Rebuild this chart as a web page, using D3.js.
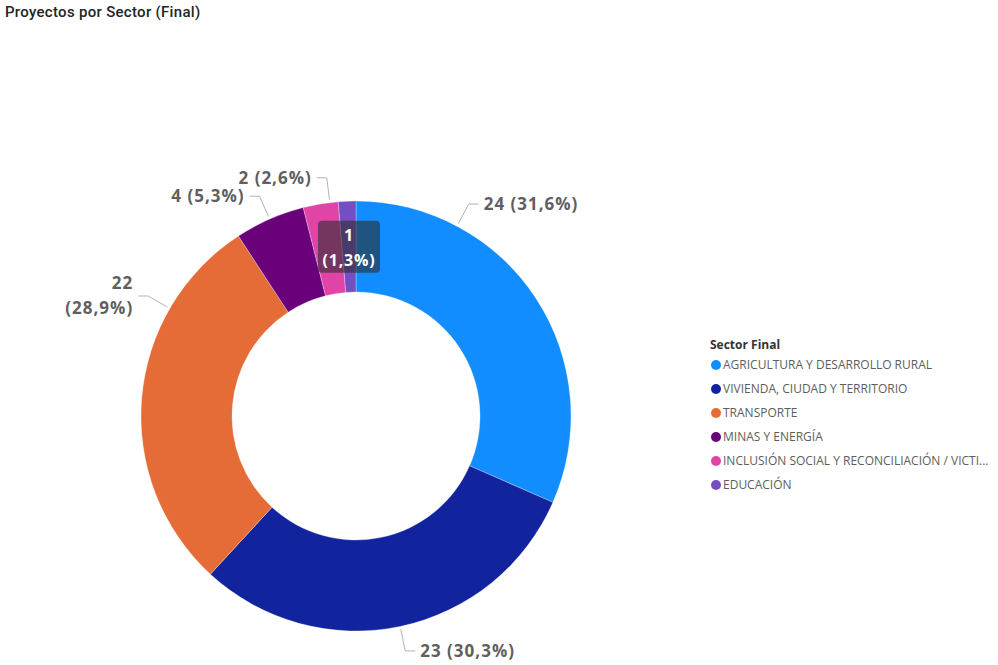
<!DOCTYPE html>
<html>
<head>
<meta charset="utf-8">
<script src="https://cdn.jsdelivr.net/npm/d3@7"></script>
<style>
body { margin: 0; background: #fff; }
</style>
</head>
<body>
<svg id="chart" width="998" height="665"></svg>
<script>
// data
var sectors = ["AGRICULTURA Y DESARROLLO RURAL", "VIVIENDA, CIUDAD Y TERRITORIO", "TRANSPORTE",
               "MINAS Y ENERGÍA", "INCLUSIÓN SOCIAL Y RECONCILIACIÓN / VICTI...", "EDUCACIÓN"];
var proyectos = [24, 23, 22, 4, 2, 1];
var colores = ["#118DFF", "#12239E", "#E66C37", "#6B007B", "#E044A7", "#744EC2"];

// label placement tweaks (degrees, null = slice middle)
var labelAngle = [28, null, 300, null, 353, null];
var labelWrap = [false, false, true, false, false, false];
var labelInside = [false, false, false, false, false, true];

var svg = d3.select("#chart");
var cx = 356, cy = 416, R = 215, r = 124;

svg.append("text")
    .attr("x", 5).attr("y", 17)
    .style("font", "500 15px Roboto")
    .style("letter-spacing", "0.3px")
    .style("fill", "#252423")
    .text("Proyectos por Sector (Final)");

var es = d3.formatLocale({decimal: ",", thousands: ".", grouping: [3], currency: ["", "€"]});
var pct = es.format(".1%");
var total = d3.sum(proyectos);

var data = proyectos.map(function(v, i) { return {name: sectors[i], value: v, i: i}; });

var pie = d3.pie().sort(null).value(function(d) { return d.value; });
var arc = d3.arc().innerRadius(r).outerRadius(R);
var arcs = pie(data);

var g = svg.append("g").attr("transform", "translate(" + cx + "," + cy + ")");

g.selectAll("path.slice")
  .data(arcs)
  .enter().append("path")
    .attr("class", "slice")
    .attr("d", arc)
    .attr("fill", function(d) { return colores[d.data.i]; })
    .attr("stroke", "#fff")
    .attr("stroke-width", 0.3);

function labelText(d) { return d.data.value + " (" + pct(d.data.value / total) + ")"; }

var outside = arcs.filter(function(d) { return !labelInside[d.data.i]; });

outside.forEach(function(d) {
  var i = d.data.i;
  var a = labelAngle[i] != null ? labelAngle[i] * Math.PI / 180 : (d.startAngle + d.endAngle) / 2;
  var s = Math.sin(a), c = -Math.cos(a);
  var p1 = [s * (R + 3), c * (R + 3)];
  var p2 = [s * (R + 25), c * (R + 25)];
  var dir = s >= 0 ? 1 : -1;
  var p3 = [p2[0] + dir * 10, p2[1]];

  g.append("polyline")
      .attr("points", [p1, p2, p3].map(function(p) { return p.join(","); }).join(" "))
      .attr("fill", "none")
      .attr("stroke", "#b3b3b3")
      .attr("stroke-width", 1);

  var t = g.append("text")
      .attr("x", p3[0] + dir * 5)
      .attr("y", p3[1])
      .attr("text-anchor", dir > 0 ? "start" : "end")
      .style("font", "bold 17px 'Open Sans'")
      .style("letter-spacing", "1px")
      .style("fill", "#5f5f5f");

  if (labelWrap[i]) {
    t.append("tspan").attr("x", p3[0] + dir * 5).attr("dy", "-0.4em").text(d.data.value);
    t.append("tspan").attr("x", p3[0] + dir * 5).attr("dy", "1.45em").text("(" + pct(d.data.value / total) + ")");
  } else {
    t.attr("dy", "0.35em").text(labelText(d));
  }
});

// the small slice gets its label inside a dark box
arcs.filter(function(d) { return labelInside[d.data.i]; }).forEach(function(d) {
  var ctr = arc.centroid(d);
  g.append("rect")
      .attr("x", ctr[0] - 31).attr("y", ctr[1] - 26)
      .attr("width", 62).attr("height", 52)
      .attr("rx", 4)
      .attr("fill", "rgba(45,45,45,0.6)");
  var t = g.append("text")
      .attr("text-anchor", "middle")
      .style("font", "bold 16px 'Open Sans'")
      .style("letter-spacing", "0.8px")
      .style("fill", "#fff");
  t.append("tspan").attr("x", ctr[0]).attr("y", ctr[1] - 6).text(d.data.value);
  t.append("tspan").attr("x", ctr[0]).attr("y", ctr[1] + 19).text("(" + pct(d.data.value / total) + ")");
});

// legend
var leg = svg.append("g").attr("transform", "translate(710,345)");
leg.append("text")
    .attr("x", 0).attr("y", 4)
    .style("font", "bold 12px 'Open Sans'")
    .style("fill", "#333")
    .text("Sector Final");

var item = leg.selectAll("g.item")
  .data(data)
  .enter().append("g")
    .attr("class", "item")
    .attr("transform", function(d, i) { return "translate(0," + (20 + i * 24) + ")"; });

item.append("circle")
    .attr("cx", 6).attr("cy", 0).attr("r", 5)
    .attr("fill", function(d) { return colores[d.i]; });

item.append("text")
    .attr("x", 13).attr("dy", "0.35em")
    .style("font", "12px 'Open Sans'")
    .style("fill", "#605E5C")
    .text(function(d) { return d.name; });
</script>
</body>
</html>
